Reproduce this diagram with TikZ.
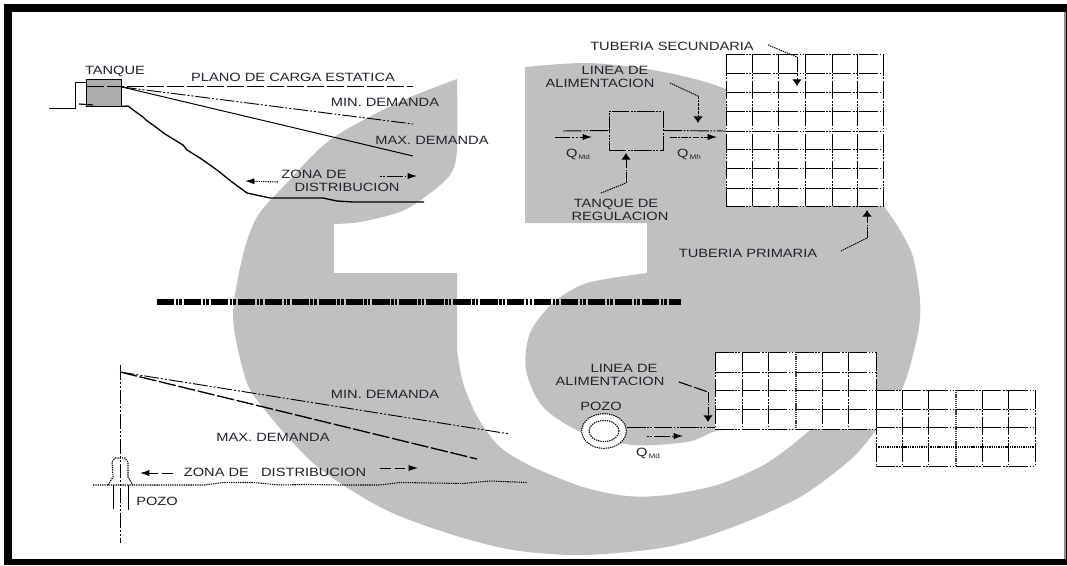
\documentclass[tikz,border=0pt]{standalone}
\usepackage{fontspec}
\setmainfont[FakeStretch=1.22]{Liberation Sans}
\usetikzlibrary{arrows.meta,shapes.geometric}
\definecolor{logogray}{HTML}{C0C0C0}
\definecolor{inkc}{HTML}{22222C}
\tikzset{
  lbl/.style={inner sep=0pt,text=inkc,font=\fontsize{9}{10}\selectfont,text height=6.3pt,text depth=0pt},
  thinl/.style={line width=0.7pt,black},
  dashdot/.style={line width=0.7pt,black,dash pattern=on 11pt off 1.5pt on 1.5pt off 1.5pt on 1.5pt off 1.5pt},
  dotl/.style={line width=0.8pt,black,dash pattern=on 1pt off 0.7pt},
  dotv/.style={line width=1pt,black!75,dash pattern=on 1pt off 0.6pt},
  longd/.style={line width=0.85pt,black,dash pattern=on 13pt off 2pt},
  harrow/.style={-{Latex[length=7pt,width=4.6pt]}},
  varrow/.style={-{Latex[length=5pt,width=7.2pt]}},
  gridl/.style={line width=0.7pt,black,dash pattern=on 14pt off 1.2pt on 1.2pt off 1.2pt on 1.2pt off 1.2pt}
}
\begin{document}
\begin{tikzpicture}[x=0.75pt,y=-0.75pt]
\useasboundingbox (0,0) rectangle (1067,565);
\fill[white] (0,0) rectangle (1067,565);
\fill[black] (4,4) rectangle (1067,565);
\fill[white] (12,12) rectangle (1064,559);
\fill[black!45] (1064,12) rectangle (1066,559);
% logo
\fill[logogray]
  plot[smooth,tension=0.5] coordinates {(457,79)(457,150)(450,175)(425,197)(400,212)(360,222)(334,224)}
  -- (334,273) -- (457,273) -- (457,350)
  -- plot[smooth,tension=0.5] coordinates {(457,350)(463,383)(478,418)(500,447)(533,467)(583,487)(627,496)(667,495)(717,485)(760,467)(787,449)(810,430)}
  -- (730,429)
  -- plot[smooth,tension=0.5] coordinates {(730,429)(713,432)(687,442)(633,445)(583,433)(543,407)(526,370)(530,333)(553,303)(587,283)(647,273)}
  -- (647,223) -- (525,223) -- (525,67)
  -- plot[smooth,tension=0.5] coordinates {(525,67)(587,63)(653,70)(723,88)(800,130)(860,175)(883,205)(900,230)(913,257)(920,300)(918,333)(903,387)(876,430)(850,460)(800,497)(733,527)(667,547)(583,555)(513,550)(447,533)(380,507)(313,463)(257,400)(243,370)(233,315)(243,255)(257,217)(283,187)(330,140)(397,103)(457,79)}
  -- cycle;
% separator
\coordinate (sepa) at (157,302);
\coordinate (sepb) at (681,302);
\draw[line width=3.9pt,black,dash pattern=on 13pt off 1.1pt on 1.9pt off 0.8pt on 1.9pt off 1.5pt] (sepa) -- (sepb);

% ---- top left
\node[draw=black,line width=0.7pt,fill=black!32,minimum width=26.2pt,minimum height=20.2pt,inner sep=0pt] (tanque) at (103.5,92.5) {};
\node[lbl] (ltanque) at (115,70) {TANQUE};
\node[lbl] (lplano) at (293,77) {PLANO DE CARGA ESTATICA};
\node[lbl] (lmin1) at (385,102) {MIN. DEMANDA};
\node[lbl] (lmax1) at (432,140) {MAX. DEMANDA};
\node[lbl] (lzona1) at (314,174) {ZONA DE};
\node[lbl] (ldist1) at (347,187) {DISTRIBUCION};
\coordinate (pipea) at (49,108);
\coordinate (pipeb) at (75,108);
\coordinate (pipec) at (75,82);
\draw[thinl] (pipea) -- (pipeb) -- (pipec) -- (tanque.west |- pipec);
\coordinate (stubb) at (93,105);
\draw[line width=0.9pt] (79,104) -- (stubb);
\draw[line width=1pt] (tanque.south east) -- (128,106) -- (136,112) -- (143,117) -- (146,120) -- (153,125) -- (165,134) -- (183,145) -- (187,150) -- (200,158) -- (217,170) -- (232,182) -- (247,193) -- (270,198) -- (323,198) -- (337,201) -- (353,202) -- (424,202);
\coordinate (plane0) at (87,86);
\coordinate (plane1) at (413,86);
\coordinate (apex) at (122,87);
\coordinate (min1) at (413,124);
\coordinate (max1) at (413,156);
\draw[longd,line width=0.75pt] (plane0) -- (plane1);
\draw[dashdot] (apex) -- (min1);
\draw[thinl,line width=0.75pt] (apex) -- (max1);
\coordinate (z1a) at (278,182); \coordinate (z1b) at (245,181);
\coordinate (z1c) at (380,176); \coordinate (z1d) at (417,176);
\draw[dotl,harrow] (z1a) -- (z1b);
\draw[dashdot,dash pattern=on 1.5pt off 1pt on 1.5pt off 1pt on 12pt,harrow] (z1c) -- (z1d);

% ---- top right
\fill[white] (726,54) rectangle (883,206);
\foreach \x in {726,752,778,805,832,857,883} \draw[gridl] (\x,54) -- (\x,206);
\foreach \y in {54,73,92,111,131,149,168,188,206} \draw[gridl] (726,\y) -- (883,\y);
\node[draw=black,line width=0.7pt,dash pattern=on 13pt off 1pt on 1.5pt off 1pt on 1.5pt off 1pt,minimum width=40.5pt,minimum height=29.2pt,inner sep=0pt] (regbox) at (636,130.5) {};
\coordinate (inp) at (563,131);
\coordinate (netin) at (726,131);
\draw[gridl] (inp) -- (regbox.west);
\draw[gridl] (regbox.east) -- (netin);
\coordinate (qa) at (555,137); \coordinate (qb) at (592,137);
\coordinate (qc) at (670,137); \coordinate (qd) at (717,137);
\draw[dashdot,harrow] (qa) -- (qb);
\draw[dashdot,dash pattern=on 5pt off 1pt on 1.5pt off 1pt,harrow] (qc) -- (qd);
\node[lbl] (lts) at (672,46) {TUBERIA SECUNDARIA};
\node[lbl] (lla) at (615,70) {LINEA DE};
\node[lbl] (llb) at (600,83) {ALIMENTACION};
\node[lbl] (lqmd) at (578,153) {Q\raisebox{-2pt}{\fontsize{5}{6}\selectfont\,Md}};
\node[lbl] (lqmh) at (689,153) {Q\raisebox{-2pt}{\fontsize{5}{6}\selectfont\,Mh}};
\node[lbl] (ltr) at (616,203) {TANQUE DE};
\node[lbl] (lrg) at (620,216) {REGULACION};
\node[lbl] (ltp) at (748,253) {TUBERIA PRIMARIA};
\coordinate (l1a) at (768,45); \coordinate (l1b) at (797,57); \coordinate (l1c) at (797,86);
\draw[dotl] (l1a) -- (l1b);
\draw[dashdot,varrow] (l1b) -- (l1c);
\coordinate (l2a) at (670,83); \coordinate (l2b) at (698,96); \coordinate (l2c) at (698,123);
\draw[dotl] (l2a) -- (l2b);
\draw[dashdot,dash pattern=on 2pt off 0.8pt,varrow] (l2b) -- (l2c);
\coordinate (l3a) at (601,193); \coordinate (l3b) at (626,183); \coordinate (l3c) at (626,153);
\draw[dotl] (l3a) -- (l3b);
\draw[dashdot,dash pattern=on 8pt off 1pt on 1pt off 1pt,varrow] (l3b) -- (l3c);
\coordinate (l4a) at (841,251); \coordinate (l4b) at (867,238); \coordinate (l4c) at (867,210);
\draw[dotl] (l4a) -- (l4b);
\draw[dashdot,dash pattern=on 8pt off 1pt on 1pt off 1pt,varrow] (l4b) -- (l4c);

% ---- bottom right
\fill[white] (715,352) rectangle (876,429);
\fill[white] (876,390) rectangle (1035,466);
\foreach \x in {715,742,768,822,848,876} \draw[gridl] (\x,352) -- (\x,429);
\draw[dotv] (796,352) -- (796,429);
\foreach \y in {352,372,390,409,429} \draw[gridl] (715,\y) -- (876,\y);
\foreach \x in {876,902,928,982,1008,1035} \draw[gridl] (\x,390) -- (\x,466);
\draw[dotv] (956,390) -- (956,466);
\foreach \y in {390,409,427,466} \draw[gridl] (876,\y) -- (1035,\y);
\draw[dotl] (876,447) -- (1035,447);
\node[lbl] (lla2) at (624,368) {LINEA DE};
\node[lbl] (llb2) at (610,381) {ALIMENTACION};
\node[lbl] (lpozo) at (601,406) {POZO};
\node[draw=black,dotl,ellipse,fill=white,minimum width=33.5pt,minimum height=26pt,inner sep=0pt] (pozo) at (604,431) {};
\node[draw=black,dotl,ellipse,minimum width=22.5pt,minimum height=15.8pt,inner sep=0pt] (pozoin) at (604,431) {};
\coordinate (g1in) at (715,427);
\draw[gridl] (pozo.east |- g1in) -- (g1in);
\coordinate (qe) at (647,436); \coordinate (qf) at (683,436);
\draw[dashdot,dash pattern=on 1.5pt off 1pt on 1.5pt off 1pt on 12pt,harrow] (qe) -- (qf);
\node[lbl] (lqmd2) at (648,452) {Q\raisebox{-2pt}{\fontsize{5}{6}\selectfont\,Md}};
\coordinate (l5a) at (679,382); \coordinate (l5b) at (708,392); \coordinate (l5c) at (708,422);
\draw[longd,dash pattern=on 10pt off 2pt] (l5a) -- (l5b);
\draw[thinl,dash pattern=on 8pt off 1pt on 1pt off 1pt,varrow] (l5b) -- (l5c);

% ---- bottom left
\coordinate (axa) at (120,365);
\coordinate (axb) at (120,543);
\coordinate (apex2) at (120,372);
\coordinate (min2) at (510,434);
\coordinate (max2) at (477,459);
\draw[dashdot] (axa) -- (axb);
\draw[dashdot] (apex2) -- (min2);
\draw[longd,line width=1pt] (apex2) -- (max2);
\node[lbl] (lmin2) at (385,394) {MIN. DEMANDA};
\node[lbl] (lmax2) at (273,437) {MAX. DEMANDA};
\node[lbl] (lzona2) at (275,472) {ZONA DE\ \ \ DISTRIBUCION};
\node[lbl] (lpozo2) at (157,501) {POZO};
\coordinate (z2a) at (173,473); \coordinate (z2b) at (140,473);
\coordinate (z2c) at (380,468); \coordinate (z2d) at (418,468);
\draw[thinl,dash pattern=on 8pt off 3pt,harrow] (z2a) -- (z2b);
\draw[thinl,dash pattern=on 8pt off 3pt,harrow] (z2c) -- (z2d);
\draw[dotl] (93,485) -- (205,485) -- (223,482.5) -- (253,482.5) -- (280,485) -- (307,484.5) -- (340,485) -- (380,485) -- (400,482.5) -- (463,483.5) -- (490,481) -- (527,482.5);
\draw[dotl] (108,485) -- (113,477) -- (112,462) -- (115,458) -- (125,458) -- (128,462) -- (128,477) -- (133,485);
\draw[thinl] (113,485) -- (113,509);
\draw[thinl] (128,485) -- (128,510);
\end{tikzpicture}
\end{document}
